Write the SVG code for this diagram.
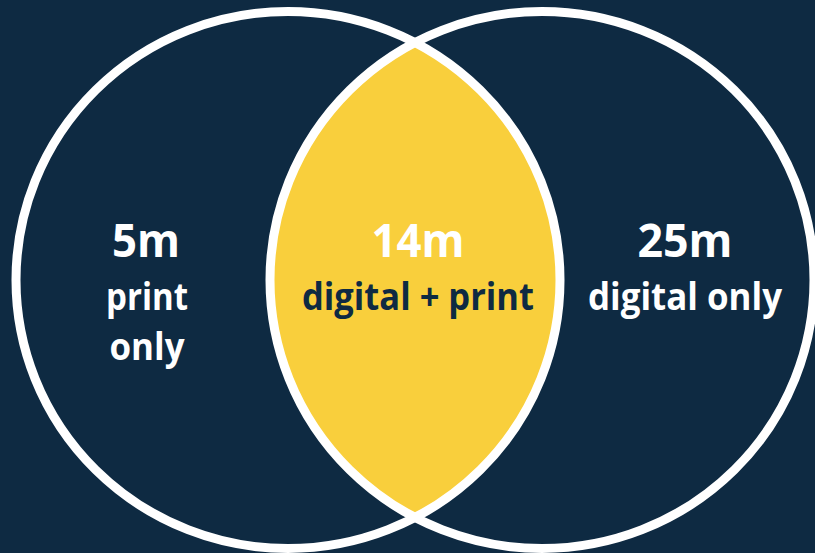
<svg xmlns="http://www.w3.org/2000/svg" width="815" height="553" viewBox="0 0 815 553">
  <style>
    .ring { fill: none; stroke: #ffffff; stroke-width: 9; }
    .num { font-family: "Open Sans", "Liberation Sans", sans-serif; font-weight: 700; font-size: 47px; text-anchor: middle; }
    .lbl { font-family: "Open Sans", "Liberation Sans", sans-serif; font-weight: 700; font-size: 38px; text-anchor: middle; }
    .light { fill: #ffffff; }
    .dark { fill: #0e2a42; }
  </style>
  <defs>
    <clipPath id="leftClip">
      <ellipse cx="288" cy="280" rx="272" ry="268.5"/>
    </clipPath>
  </defs>

  <!-- background -->
  <rect x="0" y="0" width="815" height="553" fill="#0e2a42"/>

  <!-- overlap region -->
  <g id="overlap">
    <ellipse cx="542" cy="280" rx="272" ry="268.5" fill="#f9cf3c" clip-path="url(#leftClip)"/>
  </g>

  <!-- circle outlines -->
  <g id="print-circle">
    <ellipse class="ring" cx="288" cy="280" rx="272" ry="268.5"/>
  </g>
  <g id="digital-circle">
    <ellipse class="ring" cx="542" cy="280" rx="272" ry="268.5"/>
  </g>

  <!-- labels -->
  <g id="print-only">
    <text class="num light" x="146" y="257" textLength="68" lengthAdjust="spacingAndGlyphs">5m</text>
    <text class="lbl light" x="147" y="310" textLength="82" lengthAdjust="spacingAndGlyphs">print</text>
    <text class="lbl light" x="147" y="360" textLength="75" lengthAdjust="spacingAndGlyphs">only</text>
  </g>
  <g id="digital-and-print">
    <text class="num light" x="418" y="257" textLength="93" lengthAdjust="spacingAndGlyphs">14m</text>
    <text class="lbl dark" x="418" y="310" textLength="232" lengthAdjust="spacingAndGlyphs">digital + print</text>
  </g>
  <g id="digital-only">
    <text class="num light" x="685" y="257" textLength="95" lengthAdjust="spacingAndGlyphs">25m</text>
    <text class="lbl light" x="685" y="310" textLength="194" lengthAdjust="spacingAndGlyphs">digital only</text>
  </g>
</svg>
